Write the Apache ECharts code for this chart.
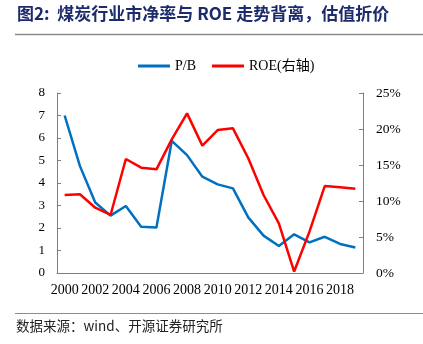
<!DOCTYPE html>
<html><head><meta charset="utf-8">
<script src="https://cdn.jsdelivr.net/npm/echarts@6/dist/echarts.min.js"></script>
<style>html,body{margin:0;padding:0;background:#fff}#c{width:423px;height:344px}</style>
</head><body><div id="c"></div>
<script>
const years = ['2000','2001','2002','2003','2004','2005','2006','2007','2008','2009','2010','2011','2012','2013','2014','2015','2016','2017','2018','2019'];
const pb = [7.0,4.75,3.13,2.55,2.98,2.06,2.02,5.87,5.24,4.28,3.94,3.76,2.47,1.66,1.2,1.72,1.36,1.61,1.29,1.13];
const roe = [10.83,10.93,9.07,8.06,15.83,14.63,14.4,18.56,22.17,17.69,19.86,20.09,15.93,10.83,6.9,0.2,5.74,12.08,11.9,11.71];
const titleText = '图2:  煤炭行业市净率与 ROE 走势背离，估值折价';
const sourceText = '数据来源：wind、开源证券研究所';
const serif = '"Liberation Serif", "Noto Sans CJK SC", serif';
const axisColor = '#7f7f7f';
const chart = echarts.init(document.getElementById('c'));
chart.setOption({
  animation: false,
  graphic: [
    {type:'text', left:17, top:5, style:{text:titleText, font:'bold 17px "Noto Sans CJK SC", serif', fill:'#1c2b6b'}},
    {type:'line', shape:{x1:15,y1:34.5,x2:423,y2:34.5}, style:{stroke:'#8c8c8c', lineWidth:1.5}},
    {type:'line', shape:{x1:15,y1:313.5,x2:423,y2:313.5}, style:{stroke:'#8c8c8c', lineWidth:1.2}},
    {type:'text', left:16, top:319, style:{text:sourceText, font:'13.5px "Noto Sans CJK SC", serif', fill:'#222'}}
  ],
  legend: {
    top: 54, left: 133, itemWidth: 32, itemHeight: 3, itemGap: 16,
    icon: 'rect',
    textStyle: {fontFamily: serif, fontSize: 14, color: '#000'},
    data: ['P/B', 'ROE(右轴)']
  },
  grid: {left: 57, right: 60, top: 93, bottom: 71},
  xAxis: {
    type: 'category', data: years, boundaryGap: true,
    axisLine: {lineStyle: {color: axisColor}},
    axisTick: {inside: true, length: 5, lineStyle: {color: axisColor}},
    axisLabel: {interval: 1, fontFamily: serif, fontSize: 14, color: '#000', margin: 10}
  },
  yAxis: [
    {type: 'value', min: 0, max: 8, interval: 1,
     axisLine: {show: true, lineStyle: {color: axisColor}},
     axisTick: {show: true, inside: true, length: 4, lineStyle: {color: axisColor}},
     splitLine: {show: false},
     axisLabel: {fontFamily: serif, fontSize: 13, color: '#000', margin: 12}},
    {type: 'value', min: 0, max: 25, interval: 5, position: 'right',
     axisLine: {show: true, lineStyle: {color: axisColor}},
     axisTick: {show: true, inside: true, length: 4, lineStyle: {color: axisColor}},
     splitLine: {show: false},
     axisLabel: {formatter: '{value}%', fontFamily: serif, fontSize: 13.5, color: '#000', margin: 13}}
  ],
  series: [
    {name: 'P/B', type: 'line', data: pb, yAxisIndex: 0, symbol: 'none',
     lineStyle: {color: '#0070C0', width: 2.5}, itemStyle: {color: '#0070C0'}},
    {name: 'ROE(右轴)', type: 'line', data: roe, yAxisIndex: 1, symbol: 'none',
     lineStyle: {color: '#FF0000', width: 2.5}, itemStyle: {color: '#FF0000'}}
  ]
});
</script></body></html>
